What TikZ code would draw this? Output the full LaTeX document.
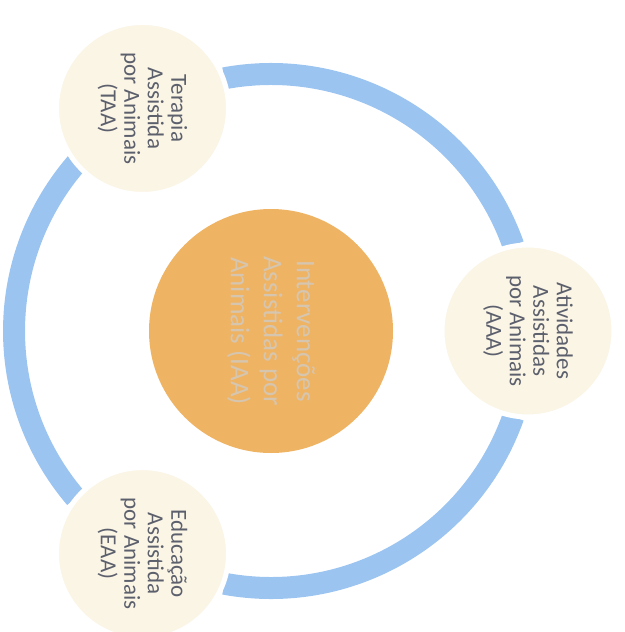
\documentclass[tikz,border=0pt]{standalone}
\usepackage{fontspec}
\setmainfont{Carlito}
\usetikzlibrary{calc}
\definecolor{ringblue}{RGB}{155,196,240}
\definecolor{orangec}{RGB}{239,179,100}
\definecolor{creamc}{RGB}{251,245,230}
\definecolor{sattext}{RGB}{92,96,108}
\definecolor{centertext}{RGB}{214,198,176}
\begin{document}
\begin{tikzpicture}[x=1pt,y=1pt,
  ringarc/.style={draw=ringblue,line width=22pt,line cap=butt},
  satnode/.style={circle,fill=creamc,draw=white,line width=5pt,minimum size=172pt,inner sep=0pt,
    text=sattext,font=\fontsize{23}{23.5}\selectfont,align=center,rotate=-90},
  centernode/.style={circle,fill=orangec,minimum size=244pt,inner sep=0pt,
    text=centertext,font=\fontsize{27}{33}\selectfont,align=center,rotate=-90}]
\useasboundingbox (0,0) rectangle (624,-632);
\coordinate (C) at (271,-331);
% ring arcs
\draw[ringarc] ($(C)+(19.5:257)$) arc[start angle=19.5,end angle=100.5,radius=257];
\draw[ringarc] ($(C)+(138.5:257)$) arc[start angle=138.5,end angle=220.5,radius=257];
\draw[ringarc] ($(C)+(259.5:257)$) arc[start angle=259.5,end angle=340.5,radius=257];
% nodes
\node[centernode] (iaa) at (C) {Intervenções\\Assistidas por\\Animais (IAA)};
\node[satnode] (aaa) at ($(C)+(0:257)$) {Atividades\\Assistidas\\por Animais\\(AAA)};
\node[satnode] (taa) at ($(C)+(120:257)$) {Terapia\\Assistida\\por Animais\\(TAA)};
\node[satnode] (eaa) at ($(C)+(240:257)$) {Educação\\Assistida\\por Animais\\(EAA)};
\end{tikzpicture}
\end{document}
